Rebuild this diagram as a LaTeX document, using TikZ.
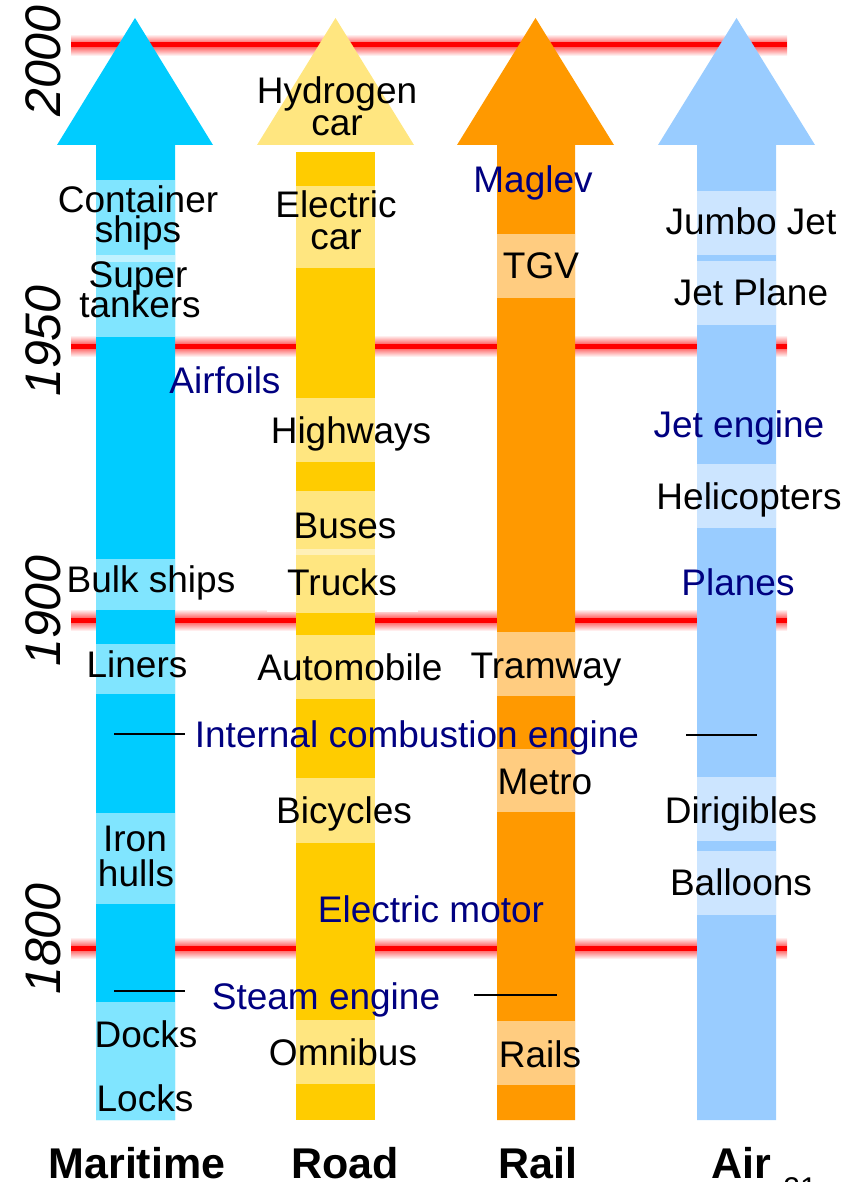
\documentclass[tikz,border=0pt]{standalone}
\usepackage{fontspec}
\setmainfont{Liberation Sans}
\definecolor{mDark}{HTML}{00CCFF}
\definecolor{mLight}{HTML}{80E5FF}
\definecolor{mPale}{HTML}{C0F2FF}
\definecolor{rDark}{HTML}{FFCC00}
\definecolor{rLight}{HTML}{FFE680}
\definecolor{rPale}{HTML}{FFF0B8}
\definecolor{lDark}{HTML}{FF9900}
\definecolor{lLight}{HTML}{FFCC80}
\definecolor{aDark}{HTML}{99CCFF}
\definecolor{aLight}{HTML}{CCE5FF}
\definecolor{navy}{HTML}{000080}
\tikzset{
  lbl/.style={font=\fontsize{37}{31}\selectfont, inner sep=0pt, anchor=base, text=black},
  tech/.style={lbl, text=navy},
  yr/.style={font=\fontsize{50}{50}\selectfont\itshape, rotate=90, anchor=base, inner sep=0pt},
  mode/.style={font=\fontsize{43}{43}\selectfont\bfseries, anchor=base, inner sep=0pt},
  era/.style={line width=2pt, black},
}
\newcommand\redline[1]{%
  \shade[top color=white, bottom color=white, middle color=red!75] (71,#1-11) rectangle (787,#1+11);
  \fill[red] (71,#1-2.5) rectangle (787,#1+2.5);}
\begin{document}
\begin{tikzpicture}[x=1pt,y=-1pt]
\useasboundingbox (0,0) rectangle (848,1182);
% year lines
\redline{45}
\redline{346}
\redline{620}
\redline{948}
\fill[white] (267,553) rectangle (418,612);
% Maritime arrow
\fill[mDark] (96,1120) -- (96,145) -- (57,145) -- (135,18) -- (213,145) -- (175,145) -- (175,1120) -- cycle;
\fill[mLight] (96,180) rectangle (175,255);
\fill[mPale] (96,255) rectangle (175,262);
\fill[mLight] (96,262) rectangle (175,337);
\fill[mLight] (96,559) rectangle (175,610);
\fill[mLight] (96,644) rectangle (175,694);
\fill[mLight] (96,813) rectangle (175,904);
\fill[mLight] (96,1002) rectangle (175,1120);
% Road arrow
\fill[rLight] (257,145) -- (335.5,18) -- (414,145) -- cycle;
\fill[rDark] (296,152) rectangle (375,1120);
\fill[rLight] (296,186) rectangle (375,268);
\fill[rLight] (296,398) rectangle (375,462);
\fill[rLight] (296,491) rectangle (375,549);
\fill[rPale] (296,549) rectangle (375,555);
\fill[rLight] (296,555) rectangle (375,613);
\fill[rLight] (296,635) rectangle (375,699);
\fill[rLight] (296,778) rectangle (375,843);
\fill[rLight] (296,1020) rectangle (375,1084);
% Rail arrow
\fill[lDark] (497,1120) -- (497,145) -- (457,145) -- (535.5,18) -- (614,145) -- (575,145) -- (575,1120) -- cycle;
\fill[lLight] (497,234) rectangle (575,298);
\fill[lLight] (497,632) rectangle (575,696);
\fill[lLight] (497,749) rectangle (575,812);
\fill[lLight] (497,1021) rectangle (575,1085);
% Air arrow
\fill[aDark] (697,1120) -- (697,145) -- (658,145) -- (736.5,18) -- (815,145) -- (776,145) -- (776,1120) -- cycle;
\fill[aLight] (697,191) rectangle (776,255);
\fill[aLight] (697,261) rectangle (776,325);
\fill[aLight] (697,464) rectangle (776,528);
\fill[aLight] (697,777) rectangle (776,841);
\fill[aLight] (697,851) rectangle (776,915);
% years
\node[yr] (y2000) at (60,61) {2000};
\node[yr] (y1950) at (60,341) {1950};
\node[yr] (y1900) at (60,611) {1900};
\node[yr] (y1800) at (60,939) {1800};
% maritime labels
\node[lbl] (cont1) at (138,213) {Container};
\node[lbl] (cont2) at (138,243) {ships};
\node[lbl] (sup1) at (138,287) {Super};
\node[lbl] (sup2) at (140,317) {tankers};
\node[lbl] (bulk) at (151,592) {Bulk ships};
\node[lbl] (liners) at (137,677) {Liners};
\node[lbl] (iron1) at (135,851) {Iron};
\node[lbl] (iron2) at (136,886) {hulls};
\node[lbl] (docks) at (146,1047) {Docks};
\node[lbl] (locks) at (145,1111) {Locks};
% road labels
\node[lbl] (hyd1) at (337,104) {Hydrogen};
\node[lbl] (hyd2) at (337,136) {car};
\node[lbl] (ec1) at (336,218) {Electric};
\node[lbl] (ec2) at (336,250) {car};
\node[lbl] (highways) at (351,443) {Highways};
\node[lbl] (buses) at (345,538) {Buses};
\node[lbl] (trucks) at (342,595) {Trucks};
\node[lbl] (auto) at (350,680) {Automobile};
\node[lbl] (bicycles) at (344,823) {Bicycles};
\node[lbl] (omnibus) at (343,1065) {Omnibus};
% rail labels
\node[lbl] (tgv) at (541,278) {TGV};
\node[lbl] (tramway) at (546,678) {Tramway};
\node[lbl] (metro) at (545,794) {Metro};
\node[lbl] (rails) at (540,1067) {Rails};
% air labels
\node[lbl] (jumbo) at (751,235) {Jumbo Jet};
\node[lbl] (jetplane) at (751,305) {Jet Plane};
\node[lbl] (heli) at (749,509) {Helicopters};
\node[lbl] (dirig) at (741,823) {Dirigibles};
\node[lbl] (balloons) at (741,895) {Balloons};
% technologies
\node[tech] (maglev) at (533,193) {Maglev};
\node[tech] (airfoils) at (225,393) {Airfoils};
\node[tech] (jetengine) at (739,437) {Jet engine};
\node[tech] (planes) at (738,595) {Planes};
\node[tech] (ice) at (417,747) {Internal combustion engine};
\node[tech] (emotor) at (431,922) {Electric motor};
\node[tech] (steam) at (326,1009) {Steam engine};
% era marks
\coordinate (iceL1) at (114,734);
\coordinate (iceL2) at (185,734);
\coordinate (iceR1) at (686,735);
\coordinate (iceR2) at (757,735);
\coordinate (stL1) at (114,991);
\coordinate (stL2) at (185,991);
\coordinate (stR1) at (474,995);
\coordinate (stR2) at (557,995);
\draw[era] (iceL1) -- (iceL2);
\draw[era] (iceR1) -- (iceR2);
\draw[era] (stL1) -- (stL2);
\draw[era] (stR1) -- (stR2);
% modes
\node[mode] (maritime) at (137,1178) {Maritime};
\node[mode] (road) at (345,1178) {Road};
\node[mode] (rail) at (538,1178) {Rail};
\node[mode] (air) at (741,1178) {Air};
\node[font=\fontsize{30}{30}\selectfont, anchor=base, inner sep=0pt] (page) at (800,1198) {21};
\end{tikzpicture}
\end{document}
